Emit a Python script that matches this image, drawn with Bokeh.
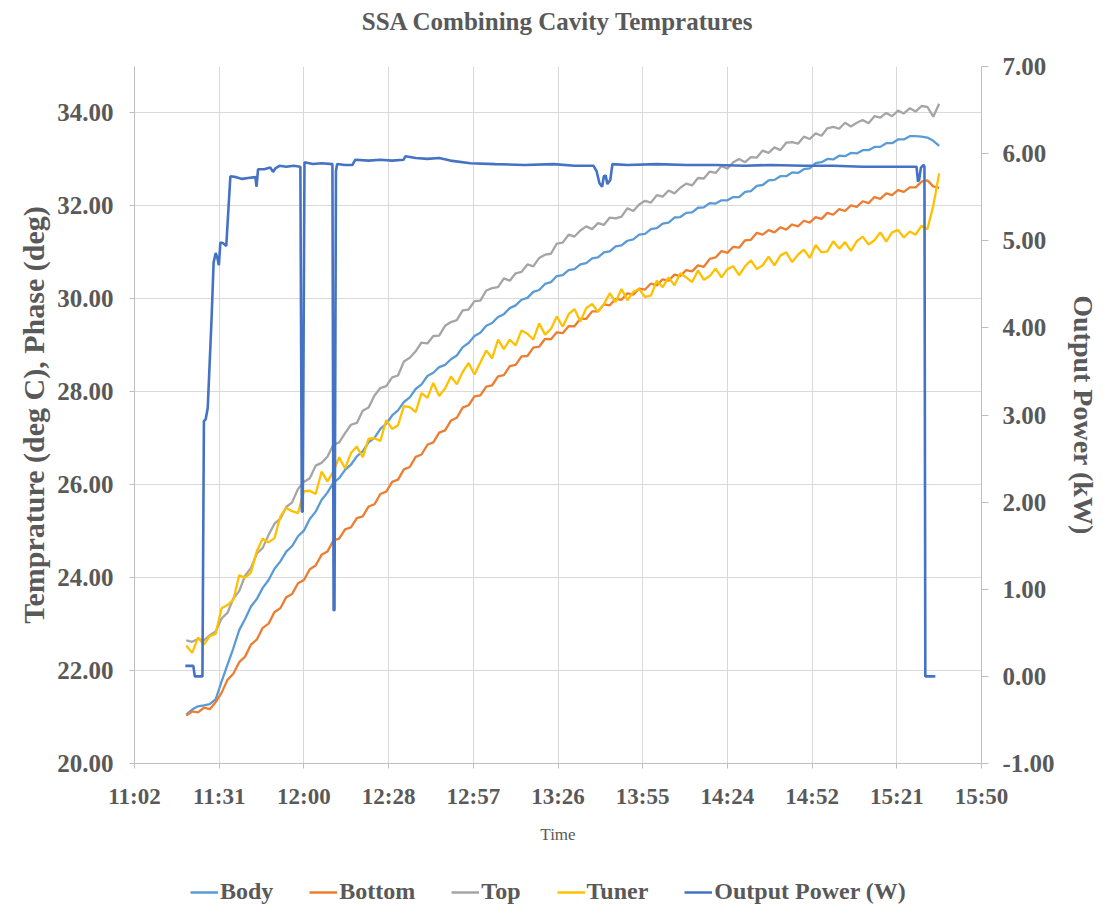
from bokeh.plotting import figure
from bokeh.layouts import column
from bokeh.models import Range1d, LinearAxis, FixedTicker, NumeralTickFormatter, Legend, LegendItem
from bokeh.core.properties import value
from bokeh.embed import file_html
from bokeh.resources import INLINE

# ---------------- data ----------------
# temperature samples, minutes after midnight (every 2 min, 11:20 .. 15:36)
temp_minutes = list(range(680, 937, 2))

body = [21.05, 21.16, 21.23, 21.25, 21.28, 21.38, 21.76, 22.12, 22.48, 22.87,
        23.11, 23.38, 23.54, 23.78, 23.95, 24.19, 24.35, 24.56, 24.68, 24.89,
        25.01, 25.26, 25.42, 25.67, 25.83, 26.04, 26.14, 26.32, 26.43, 26.61,
        26.72, 26.91, 27.01, 27.20, 27.31, 27.49, 27.60, 27.78, 27.88, 28.06,
        28.16, 28.34, 28.41, 28.53, 28.58, 28.70, 28.78, 28.96, 29.05, 29.20,
        29.27, 29.42, 29.48, 29.61, 29.67, 29.80, 29.86, 29.98, 30.02, 30.15,
        30.19, 30.32, 30.36, 30.49, 30.51, 30.62, 30.64, 30.74, 30.77, 30.87,
        30.89, 31.00, 31.02, 31.13, 31.15, 31.25, 31.28, 31.38, 31.40, 31.50,
        31.52, 31.62, 31.64, 31.75, 31.76, 31.85, 31.86, 31.96, 31.97, 32.06,
        32.05, 32.12, 32.12, 32.19, 32.19, 32.30, 32.32, 32.43, 32.45, 32.55,
        32.56, 32.64, 32.64, 32.72, 32.71, 32.79, 32.81, 32.92, 32.94, 33.01,
        33.00, 33.08, 33.07, 33.14, 33.13, 33.20, 33.20, 33.27, 33.27, 33.35,
        33.35, 33.43, 33.43, 33.50, 33.50, 33.49, 33.47, 33.40, 33.29]

bottom = [21.03, 21.12, 21.10, 21.20, 21.17, 21.32, 21.52, 21.80, 21.93, 22.18,
          22.30, 22.56, 22.67, 22.92, 23.01, 23.26, 23.34, 23.58, 23.65, 23.88,
          23.95, 24.18, 24.26, 24.49, 24.56, 24.80, 24.84, 25.04, 25.08, 25.28,
          25.32, 25.53, 25.58, 25.80, 25.85, 26.06, 26.11, 26.33, 26.38, 26.60,
          26.65, 26.86, 26.91, 27.12, 27.17, 27.38, 27.44, 27.66, 27.71, 27.90,
          27.92, 28.11, 28.14, 28.33, 28.36, 28.55, 28.58, 28.76, 28.77, 28.95,
          28.97, 29.14, 29.13, 29.28, 29.26, 29.41, 29.41, 29.57, 29.57, 29.73,
          29.73, 29.88, 29.86, 30.00, 29.98, 30.12, 30.09, 30.22, 30.20, 30.33,
          30.29, 30.42, 30.39, 30.52, 30.49, 30.62, 30.59, 30.72, 30.69, 30.86,
          30.89, 31.03, 30.99, 31.12, 31.10, 31.26, 31.27, 31.42, 31.38, 31.48,
          31.43, 31.54, 31.49, 31.60, 31.56, 31.68, 31.64, 31.76, 31.72, 31.85,
          31.81, 31.93, 31.89, 32.01, 31.98, 32.10, 32.06, 32.19, 32.15, 32.27,
          32.23, 32.34, 32.30, 32.40, 32.40, 32.52, 32.55, 32.42, 32.39]

top = [22.65, 22.62, 22.68, 22.65, 22.76, 22.84, 23.12, 23.24, 23.55, 23.71,
       24.04, 24.21, 24.52, 24.64, 24.92, 25.16, 25.27, 25.52, 25.62, 25.91,
       26.06, 26.14, 26.41, 26.47, 26.60, 26.86, 26.91, 27.11, 27.29, 27.33,
       27.59, 27.66, 27.92, 28.08, 28.12, 28.31, 28.35, 28.65, 28.73, 28.87,
       29.06, 29.04, 29.20, 29.21, 29.42, 29.50, 29.54, 29.75, 29.77, 29.95,
       29.96, 30.18, 30.23, 30.25, 30.44, 30.39, 30.55, 30.58, 30.74, 30.70,
       30.88, 30.95, 30.97, 31.19, 31.21, 31.38, 31.34, 31.47, 31.56, 31.50,
       31.63, 31.59, 31.75, 31.73, 31.77, 31.95, 31.89, 32.03, 32.11, 32.07,
       32.23, 32.20, 32.33, 32.27, 32.39, 32.48, 32.44, 32.60, 32.59, 32.74,
       32.71, 32.86, 32.80, 32.94, 33.01, 32.94, 33.05, 33.04, 33.19, 33.14,
       33.26, 33.20, 33.36, 33.37, 33.34, 33.49, 33.44, 33.56, 33.51, 33.67,
       33.70, 33.66, 33.79, 33.71, 33.79, 33.85, 33.78, 33.93, 33.90, 34.00,
       33.93, 34.05, 33.99, 34.10, 34.03, 34.15, 34.13, 33.92, 34.20]

tuner = [22.54, 22.38, 22.71, 22.56, 22.74, 22.79, 23.34, 23.41, 23.52, 24.05,
         24.00, 24.11, 24.57, 24.84, 24.76, 24.85, 25.32, 25.50, 25.43, 25.39,
         25.86, 25.87, 25.80, 26.28, 26.07, 26.28, 26.59, 26.35, 26.68, 26.82,
         26.59, 26.99, 27.00, 26.94, 27.39, 27.20, 27.28, 27.69, 27.67, 27.56,
         27.97, 27.87, 28.19, 27.91, 28.07, 28.33, 28.16, 28.43, 28.62, 28.37,
         28.63, 28.89, 28.72, 29.12, 28.92, 29.12, 29.00, 29.32, 29.25, 29.12,
         29.47, 29.23, 29.35, 29.62, 29.40, 29.67, 29.78, 29.51, 29.80, 29.89,
         29.72, 29.88, 30.12, 29.93, 30.21, 29.97, 30.15, 30.21, 30.04, 30.07,
         30.39, 30.25, 30.46, 30.29, 30.55, 30.46, 30.36, 30.61, 30.41, 30.49,
         30.65, 30.46, 30.64, 30.70, 30.51, 30.70, 30.83, 30.64, 30.72, 30.91,
         30.72, 30.93, 31.00, 30.79, 30.95, 31.06, 30.88, 31.16, 31.00, 31.02,
         31.24, 31.08, 31.22, 31.03, 31.24, 31.34, 31.17, 31.26, 31.43, 31.23,
         31.43, 31.48, 31.32, 31.45, 31.38, 31.57, 31.50, 32.00, 32.70]

power_minutes = [679.7, 682.4, 682.9, 685.5, 686.0, 686.6, 687.3, 688.6, 689.3, 690.0,
                 690.6, 691.1, 691.6, 692.6, 693.6, 694.4, 695.0, 697.0, 699.0, 701.0,
                 703.5, 703.9, 704.4, 706.5, 708.6, 709.5, 710.3, 711.7, 714.0, 716.5,
                 718.8, 719.3, 719.6, 720.2, 723.0, 726.0, 729.7, 730.1, 730.4, 730.9,
                 731.3, 734.0, 736.5, 737.5, 742.0, 746.0, 750.0, 753.9, 754.5, 758.0,
                 762.0, 766.0, 769.8, 776.6, 785.0, 795.0, 805.0, 812.0, 818.5, 819.5,
                 820.5, 821.4, 822.0, 822.6, 823.2, 824.2, 824.9, 830.0, 840.0, 850.0,
                 860.0, 870.0, 878.6, 890.0, 900.0, 910.0, 920.0, 928.3, 928.8, 929.2,
                 929.8, 930.7, 931.0, 931.3, 934.7]
power_kw = [0.12, 0.12, 0.00, 0.00, 2.93, 2.95, 3.08, 4.10, 4.75, 4.86,
            4.80, 4.72, 4.98, 4.97, 4.94, 5.40, 5.74, 5.73, 5.71, 5.72,
            5.73, 5.62, 5.82, 5.82, 5.84, 5.79, 5.83, 5.86, 5.85, 5.86,
            5.85, 1.89, 1.89, 5.90, 5.88, 5.89, 5.88, 0.76, 0.76, 5.80,
            5.88, 5.87, 5.87, 5.93, 5.92, 5.93, 5.92, 5.93, 5.97, 5.95,
            5.94, 5.95, 5.92, 5.89, 5.88, 5.87, 5.88, 5.86, 5.86, 5.80,
            5.66, 5.62, 5.74, 5.75, 5.65, 5.70, 5.88, 5.87, 5.88, 5.87,
            5.87, 5.86, 5.87, 5.86, 5.86, 5.85, 5.85, 5.85, 5.68, 5.70,
            5.84, 5.87, 5.85, 0.00, 0.00]

# x axis ticks (seconds after midnight) and their labels
x_tick_seconds = [39744, 41472, 43200, 44928, 46656, 48384, 50112, 51840, 53568, 55296, 57024]
x_tick_labels = ["11:02", "11:31", "12:00", "12:28", "12:57", "13:26",
                 "13:55", "14:24", "14:52", "15:21", "15:50"]
left_ticks = [20, 22, 24, 26, 28, 30, 32, 34]
right_ticks = [-1, 0, 1, 2, 3, 4, 5, 6, 7]

chart_title = "SSA Combining Cavity Tempratures"
series_names = ["Body", "Bottom", "Top", "Tuner", "Output Power (W)"]
series_colors = ["#5B9BD5", "#ED7D31", "#A5A5A5", "#FFC000", "#4472C4"]

# ---------------- styling ----------------
FONT = "Liberation Serif"
TXT = "#595959"
AX = "#BFBFBF"
W = 1117
TITLE_H = 44
MAIN_H = 806
LEG_H = 913 - TITLE_H - MAIN_H


def bare_figure(height):
    f = figure(width=W, height=height, output_backend="svg", toolbar_location=None,
               x_range=Range1d(0, 1), y_range=Range1d(0, 1),
               x_axis_location=None, y_axis_location=None, min_border=0)
    f.outline_line_color = None
    f.grid.visible = False
    f.border_fill_color = "white"
    f.background_fill_color = "white"
    return f


# ---- title strip ----
tfig = bare_figure(TITLE_H)
tfig.text(x=[0.5], y=[0.52], text=[chart_title], text_align="center", text_baseline="middle",
          text_font=value(FONT), text_font_size="25px", text_font_style="bold", text_color=TXT)

# ---- main chart ----
p = figure(width=W, height=MAIN_H, output_backend="svg", toolbar_location=None,
           x_range=Range1d(39744, 57024), y_range=Range1d(20, 35))
p.min_border_left = 134
p.min_border_right = 136
p.min_border_top = 22
p.min_border_bottom = 87
p.outline_line_color = None
p.background_fill_color = "white"
p.border_fill_color = "white"
p.extra_y_ranges = {"power": Range1d(-1, 7)}

tx = [m * 60 for m in temp_minutes]
px = [m * 60 for m in power_minutes]

for vals, col in zip([body, bottom, top, tuner], series_colors[:4]):
    p.line(tx, vals, line_color=col, line_width=2.3)
p.line(px, power_kw, line_color=series_colors[4], line_width=2.6, y_range_name="power")

xa = p.xaxis[0]
xa.ticker = FixedTicker(ticks=x_tick_seconds)
xa.major_label_overrides = dict(zip(x_tick_seconds, x_tick_labels))
xa.axis_label = "Time"
xa.axis_label_text_font_size = "17px"
xa.axis_label_standoff = 13
xa.major_label_text_font_size = "23px"
xa.major_label_standoff = 15

ya = p.yaxis[0]
ya.ticker = FixedTicker(ticks=left_ticks)
ya.formatter = NumeralTickFormatter(format="0.00")
ya.axis_label = "Temprature (deg C), Phase (deg)"
ya.axis_label_text_font_size = "30px"
ya.axis_label_standoff = 4
ya.major_label_text_font_size = "25px"
ya.major_label_standoff = 16

ra = LinearAxis(y_range_name="power", ticker=FixedTicker(ticks=right_ticks),
                formatter=NumeralTickFormatter(format="0.00"))
ra.axis_label = "Output Power (kW)"
ra.axis_label_text_font_size = "28px"
ra.axis_label_standoff = 10
ra.major_label_text_font_size = "25px"
ra.major_label_standoff = 14
p.add_layout(ra, "right")

for ax in (xa, ya, ra):
    ax.axis_line_color = AX
    ax.major_tick_line_color = AX
    ax.major_tick_out = 5
    ax.major_tick_in = 0
    ax.minor_tick_line_color = None
    ax.major_label_text_font = FONT
    ax.major_label_text_font_style = "bold"
    ax.major_label_text_color = TXT
    ax.axis_label_text_font = FONT
    ax.axis_label_text_color = TXT
    ax.axis_label_text_font_style = "bold"
xa.axis_label_text_font_style = "normal"
ra.major_tick_out = 7

p.xgrid.ticker = FixedTicker(ticks=x_tick_seconds)
p.ygrid.ticker = FixedTicker(ticks=left_ticks)
p.xgrid.grid_line_color = "#D9D9D9"
p.ygrid.grid_line_color = "#D9D9D9"

# ---- legend strip (its frame is aligned with the chart frame, which starts at x=134) ----
lfig = bare_figure(LEG_H)
items = []
for name, col in zip(series_names, series_colors):
    r = lfig.line([5, 6], [5, 6], line_color=col, line_width=2.5)
    items.append(LegendItem(label=name, renderers=[r]))
legend = Legend(items=items, orientation="horizontal", location=(56, 8))
legend.label_text_font = FONT
legend.label_text_font_style = "bold"
legend.label_text_font_size = "24px"
legend.label_text_color = TXT
legend.glyph_width = 28
legend.glyph_height = 24
legend.label_standoff = 2
legend.spacing = 36
legend.padding = 0
legend.margin = 0
legend.border_line_color = None
legend.background_fill_alpha = 0
lfig.add_layout(legend)

layout = column(tfig, p, lfig, spacing=0)
open("out.html", "w").write(file_html(layout, INLINE))
